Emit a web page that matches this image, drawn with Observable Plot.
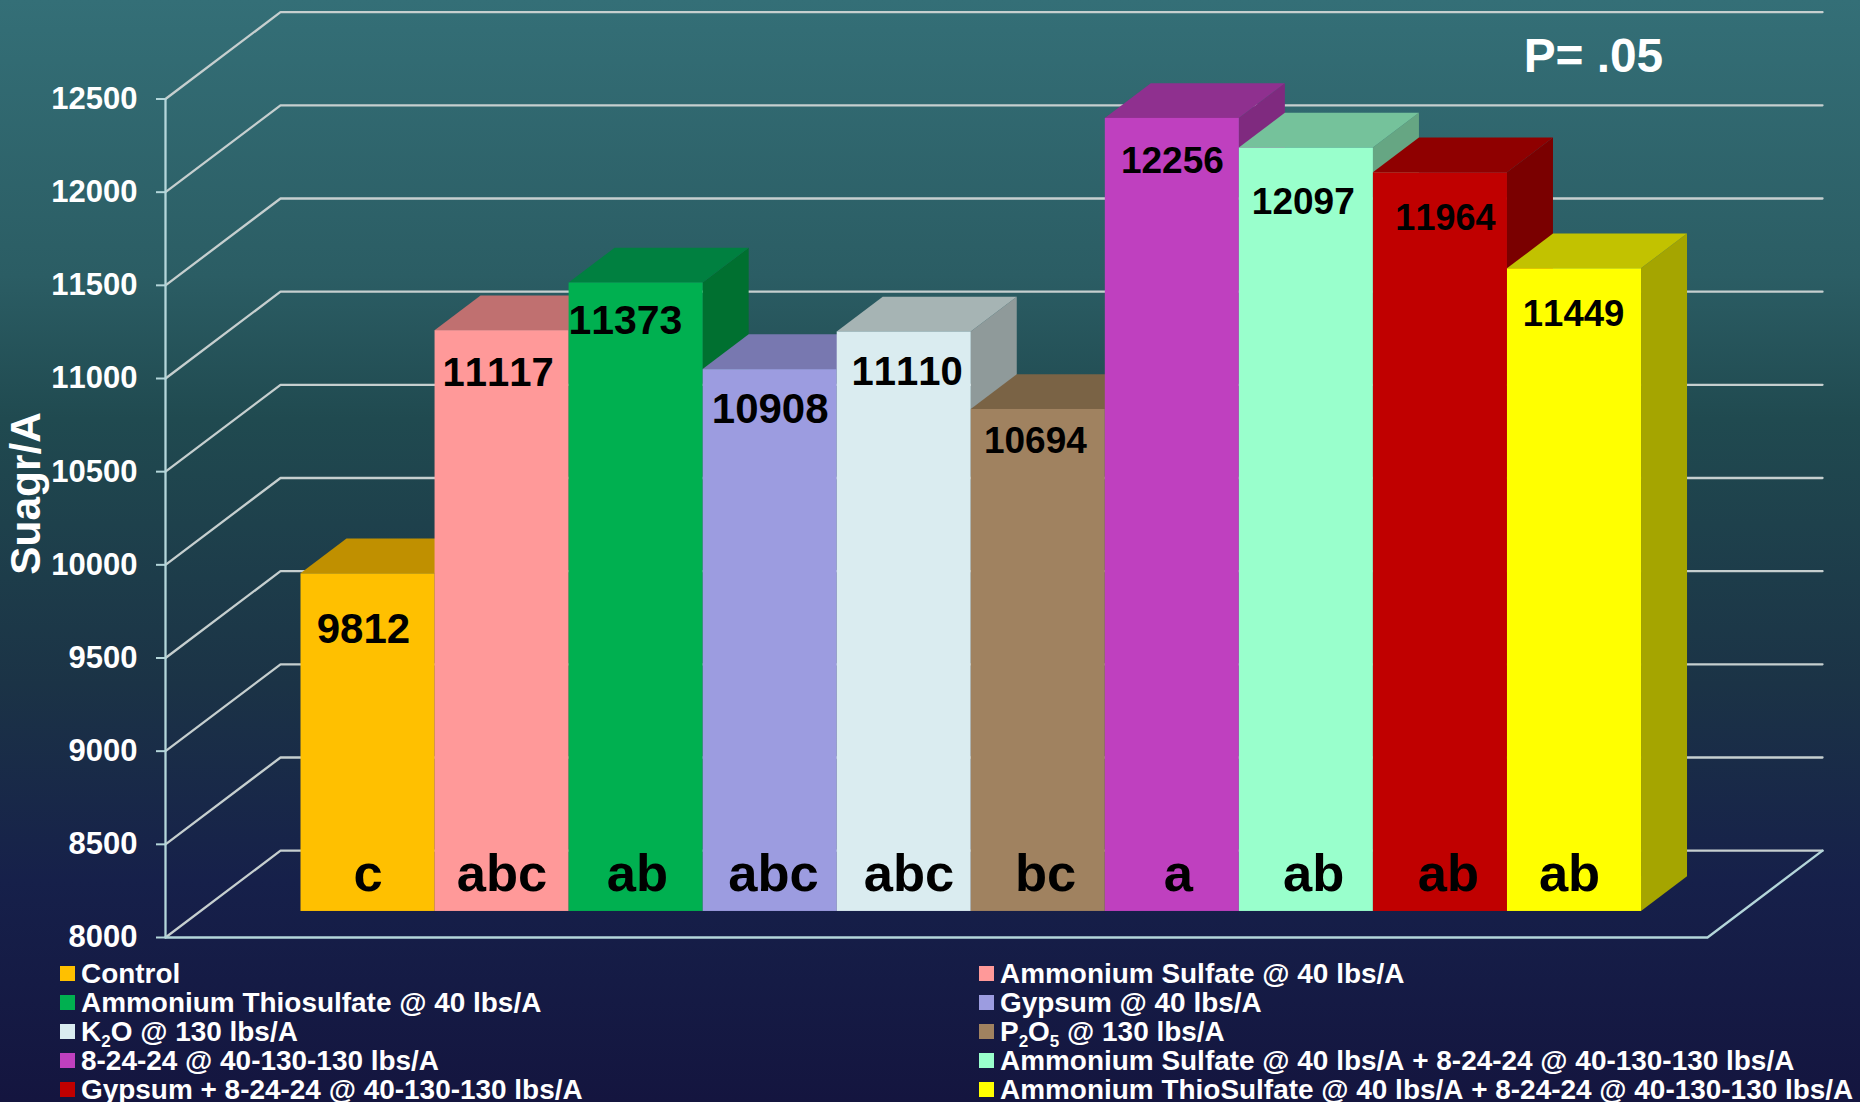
<!DOCTYPE html>
<html>
<head>
<meta charset="utf-8">
<script src="https://cdn.jsdelivr.net/npm/d3@7"></script>
<script src="https://cdn.jsdelivr.net/npm/@observablehq/plot@0.6"></script>
<style>
html,body{margin:0;padding:0;width:1860px;height:1102px;overflow:hidden;
background:linear-gradient(180deg,#346f77 0%,#2b5d64 25%,#204a50 38%,#1b3346 62%,#16204a 80%,#14153f 100%);
font-family:"Liberation Sans",Arial,sans-serif;font-kerning:none;}
svg{display:block;background:transparent!important;font-kerning:none;}
#legend{position:relative;top:1px;height:144px;color:#fff;font-weight:bold;font-size:27.95px;line-height:29px;}
#legend .it{position:absolute;white-space:nowrap;height:29px;}
#legend .sw{position:absolute;left:-21px;top:7px;width:15px;height:15px;}
#legend sub{font-size:17px;line-height:0;vertical-align:-6px;}
</style>
</head>
<body>
<div id="chart"></div>
<div id="legend"></div>
<script>
const categories = ["Control","Ammonium Sulfate @ 40 lbs/A","Ammonium Thiosulfate @ 40 lbs/A","Gypsum @ 40 lbs/A","K<sub>2</sub>O @ 130 lbs/A","P<sub>2</sub>O<sub>5</sub> @ 130 lbs/A","8-24-24 @ 40-130-130 lbs/A","Ammonium Sulfate @ 40 lbs/A + 8-24-24 @ 40-130-130 lbs/A","Gypsum + 8-24-24 @ 40-130-130 lbs/A","Ammonium ThioSulfate @ 40 lbs/A + 8-24-24 @ 40-130-130 lbs/A"];
const values = [9812,11117,11373,10908,11110,10694,12256,12097,11964,11449];
const letters = ["c","abc","ab","abc","abc","bc","a","ab","ab","ab"];
const yTicks = [8000,8500,9000,9500,10000,10500,11000,11500,12000,12500];

const frontColors = ["#FFC000","#FF9999","#00B050","#9C9CE0","#DAECF0","#A08260","#BF40BF","#99FFCC","#C00000","#FFFF00"];
const topColors   = ["#C09000","#C07070","#008040","#7878B0","#A6B4B4","#7A6345","#8F308F","#75C29B","#8F0000","#C2C200"];
const sideColors  = ["#A57C00","#A56363","#007030","#66669A","#8F9A9A","#685540","#7F2A7F","#66A683","#7A0000","#A5A500"];

// hand placement of the labels in the reference, in bar widths and sugar units
const valueShift = [-.034,-.03,-.08,0,.022,-.022,0,-.023,.037,-.007];
const valueDrop  = [299,227,201,215,218,171,230,288,246,246];
const valueSize  = [42,40,41,42,40,37,37,37,36,36.5];
const letterShift= [0,0,.01,.025,.036,.054,.044,.055,.06,-.037];

// oblique projection: depth is 0 at the front of the floor and 1 at the back wall
const depthX = 0.858, depthY = 466, barStart = 0.7534, barDepth0 = 0.3, barDepth1 = 0.7, xMax = 11.503, yBase = 8000;
const px = (x, d) => x + d * depthX;
const py = (v, d) => v + d * depthY;
const xEnd = xMax;

const gridLine = v => [{x: 0, y: v}, {x: px(0,1), y: py(v,1)}, {x: px(xEnd,1), y: py(v,1)}];

const barMarks = values.flatMap((v, i) => {
  const L = barStart + i, R = L + 1;
  const side = [
    {x: px(R, barDepth0), y1: py(yBase, barDepth0), y2: py(v, barDepth0)},
    {x: px(R, barDepth1), y1: py(yBase, barDepth1), y2: py(v, barDepth1)}
  ];
  const top = [
    {y: py(v, barDepth0), x1: px(L, barDepth0), x2: px(R, barDepth0)},
    {y: py(v, barDepth1), x1: px(L, barDepth1), x2: px(R, barDepth1)}
  ];
  return [
    Plot.areaY(side, {x: "x", y1: "y1", y2: "y2", fill: sideColors[i]}),
    Plot.areaX(top, {y: "y", x1: "x1", x2: "x2", fill: topColors[i]}),
    Plot.rect([v], {x1: px(L, barDepth0), x2: px(R, barDepth0), y1: py(yBase, barDepth0), y2: py(v, barDepth0), fill: frontColors[i]})
  ];
});

const idx = values.map((_, i) => i);
const font = '"Liberation Sans", Arial, sans-serif';

const chart = Plot.plot({
  width: 1860, height: 958,
  marginLeft: 165, marginRight: 153, marginTop: 98.5, marginBottom: 21,
  style: {background: "transparent", fontFamily: font, overflow: "visible"},
  x: {domain: [0, xMax], axis: null},
  y: {domain: [8000, 12500]},
  marks: [
    ...yTicks.map(t => Plot.line(gridLine(t), {x: "x", y: "y", stroke: "#c6cfcf", strokeWidth: 2.3})),
    Plot.line([{x: 0, y: 8000}, {x: xEnd, y: 8000}, {x: px(xEnd,1), y: py(8000,1)}], {x: "x", y: "y", stroke: "#b4d6da", strokeWidth: 2.3}),
    Plot.ruleX([0], {y1: 8000, y2: 12500, stroke: "#b4d6da", strokeWidth: 2.3}),
    Plot.axisY({ticks: yTicks, anchor: "left", label: null, tickSize: 9, tickPadding: 19, stroke: "#b4d6da", strokeWidth: 2,
      fill: "#fff", fontSize: 31, fontWeight: "bold", tickFormat: d => String(d)}),
    ...barMarks,
    Plot.text(idx, {
      x: i => barStart + i + 0.5 + barDepth0 * depthX + valueShift[i],
      y: i => py(values[i], barDepth0) - valueDrop[i],
      text: i => String(values[i]),
      fontSize: i => valueSize[i], fontWeight: "bold", fill: "#000"
    }),
    Plot.text(idx, {
      x: i => barStart + i + 0.5 + barDepth0 * depthX + letterShift[i],
      y: py(yBase, barDepth0) + 201,
      text: i => letters[i],
      fontSize: 52.5, fontWeight: "bold", fill: "#000"
    }),
    Plot.text(["Suagr/A"], {x: -1.037, y: 10383, rotate: -90, fontSize: 42.4, fontWeight: "bold", fill: "#fff"}),
    Plot.text(["P= .05"], {x: 10.652, y: 12728, fontSize: 47.8, fontWeight: "bold", fill: "#fff"})
  ]
});
document.getElementById("chart").append(chart);

const legend = document.getElementById("legend");
categories.forEach((name, i) => {
  const it = document.createElement("div");
  it.className = "it";
  it.style.left = (i % 2 ? 1000 : 81) + "px";
  it.style.top = (Math.floor(i / 2) * 29) + "px";
  it.innerHTML = `<span class="sw" style="background:${frontColors[i]}"></span>${name}`;
  legend.append(it);
});
</script>
</body>
</html>
